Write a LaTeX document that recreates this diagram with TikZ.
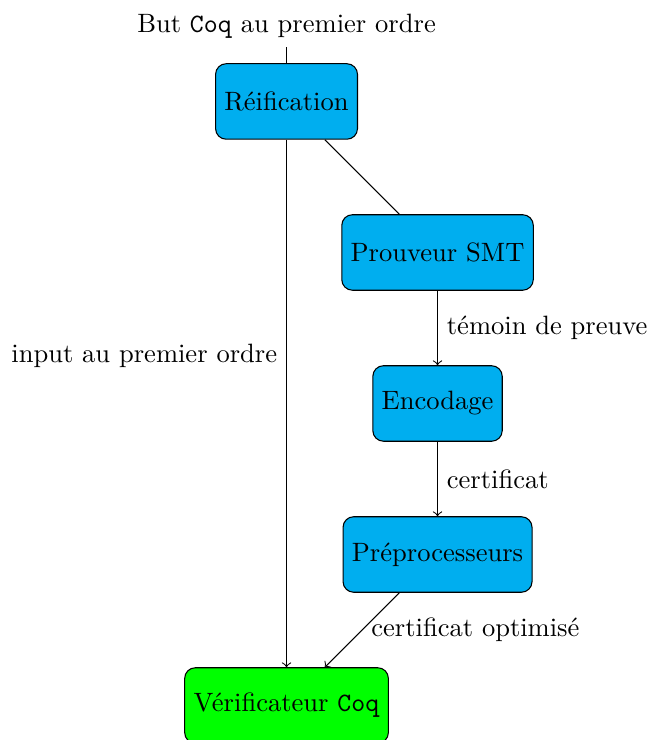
\documentclass[tikz,border=0pt]{standalone}
\usepackage{tikz}
\usetikzlibrary{positioning}
\usepackage{xcolor}
\definecolor{stepblue}{HTML}{00AEEF}
\definecolor{checkgreen}{HTML}{00FF00}

\begin{document}
\begin{tikzpicture}[
    process/.style={
        draw=black,
        rectangle,
        minimum height=1cm,
        fill=stepblue,
        rounded corners
    },
    checker/.style={
        draw=black,
        rectangle,
        minimum height=1cm,
        fill=checkgreen,
        rounded corners
    },
    arrow/.style={
        ->
    },
    node distance=2cm,
    on grid
]
    \useasboundingbox (-3.795,-8.457) rectangle (4.801,1.344);

    % Reification of the goal
    \node[process] (reif) {R\'eification};
    \node (goal) [above=1cm of reif] {But \texttt{Coq} au premier ordre};

    % SMT side
    \node[process] (smt) [below right=2cm and 2cm of reif] {Prouveur SMT};
    \node[process] (encode) [below=of smt] {Encodage};
    \node[process] (preproc) [below=of encode] {Pr\'eprocesseurs};

    % Checker
    \node[checker] (check) [below=8cm of reif] {V\'erificateur \texttt{Coq}};

    % Connections
    \draw (goal) -- (reif);
    \draw (reif) -- (smt);
    \draw[arrow] (reif) -- node[left, pos=0.41] {input au premier ordre} (check);
    \draw[arrow] (smt) -- node[right] {t\'emoin de preuve} (encode);
    \draw[arrow] (encode) -- node[right] {certificat} (preproc);
    \draw[arrow] (preproc) -- node[right] {certificat optimis\'e} (check);
\end{tikzpicture}
\end{document}
